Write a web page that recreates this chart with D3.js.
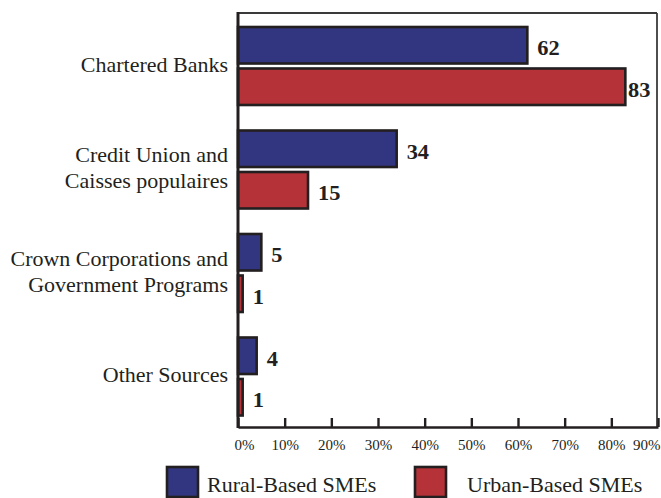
<!DOCTYPE html>
<html>
<head>
<meta charset="utf-8">
<script src="https://cdn.jsdelivr.net/npm/d3@7"></script>
<style>
  html, body { margin: 0; padding: 0; background: #fff; }
  svg { display: block; }
  text { font-family: "Liberation Serif", "Times New Roman", serif; fill: #231f20; }
</style>
</head>
<body>
<svg id="chart" width="661" height="498"></svg>
<script>
// Sources of financing used by SMEs (% of firms)
const categories = [
  ["Chartered Banks"],
  ["Credit Union and", "Caisses populaires"],
  ["Crown Corporations and", "Government Programs"],
  ["Other Sources"]
];
const seriesNames = ["Rural-Based SMEs", "Urban-Based SMEs"];
const ruralValues = [62, 34, 5, 4];
const urbanValues = [83, 15, 1, 1];
const tickValues = [0, 10, 20, 30, 40, 50, 60, 70, 80, 90];
const tickLabels = ["0%", "10%", "20%", "30%", "40%", "50%", "60%", "70%", "80%", "90%"];
const colors = ["#32357f", "#b43238"];

const svg = d3.select("#chart");
const plotLeft = 238, plotRight = 658, plotTop = 13, plotBottom = 427;
const ink = "#231f20";

const catKeys = categories.map(c => c.join(" "));
const x = d3.scaleLinear().domain([0, 90]).range([plotLeft, plotRight]);
const y0 = d3.scaleBand().domain(catKeys).range([plotTop, plotBottom]);
const y1 = d3.scaleBand().domain(seriesNames).range([14, 92]).paddingInner(0.12);

const rows = catKeys.map((k, i) => ({ key: k, lines: categories[i], values: [ruralValues[i], urbanValues[i]] }));

// frame: thin top and right edges
svg.append("line").attr("x1", plotLeft).attr("x2", plotRight - 1).attr("y1", plotTop).attr("y2", plotTop)
  .attr("stroke", "#3a3a3a").attr("stroke-width", 1.8);
svg.append("line").attr("x1", plotRight - 1).attr("x2", plotRight - 1).attr("y1", plotTop).attr("y2", plotBottom)
  .attr("stroke", "#3a3a3a").attr("stroke-width", 1.8);

// bars
const groups = svg.append("g").selectAll("g").data(rows).join("g")
  .attr("transform", d => `translate(0,${y0(d.key)})`);

groups.selectAll("rect").data(d => d.values.map((v, j) => ({ v, s: seriesNames[j], j })))
  .join("rect")
  .attr("x", x(0))
  .attr("y", d => y1(d.s))
  .attr("width", d => x(d.v) - x(0))
  .attr("height", y1.bandwidth())
  .attr("fill", d => colors[d.j])
  .attr("stroke", ink)
  .attr("stroke-width", 2.6);

// value labels (slightly widened bold digits)
groups.selectAll("text.val").data(d => d.values.map((v, j) => ({ v, s: seriesNames[j] })))
  .join("text")
  .attr("class", "val")
  .attr("transform", d => `translate(${Math.min(x(d.v) + 10, plotRight - 30)},${y1(d.s) + y1.bandwidth() / 2 + 10}) scale(1.12,1)`)
  .attr("font-size", 20)
  .attr("font-weight", "bold")
  .text(d => d.v);

// category labels
const catLabels = svg.append("g").selectAll("text").data(rows).join("text")
  .attr("text-anchor", "end")
  .attr("font-size", 22)
  .attr("y", d => y0(d.key) + y0.bandwidth() / 2 + 7 - (d.lines.length - 1) * 13);
catLabels.selectAll("tspan").data(d => d.lines).join("tspan")
  .attr("x", 228)
  .attr("dy", (d, i) => i === 0 ? 0 : 26)
  .text(d => d);

// x axis with inward ticks
const xAxis = d3.axisBottom(x)
  .tickValues(tickValues)
  .tickFormat((d, i) => tickLabels[i])
  .tickSizeInner(-9)
  .tickSizeOuter(0)
  .tickPadding(12);
const ax = svg.append("g").attr("transform", `translate(0,${plotBottom})`).call(xAxis);
ax.select(".domain").attr("stroke", ink).attr("stroke-width", 2.6);
ax.selectAll(".tick line").attr("stroke", ink).attr("stroke-width", 2.4);
ax.selectAll(".tick text")
  .attr("font-family", "Liberation Serif, Times New Roman, serif")
  .attr("font-size", 15)
  .attr("fill", ink);
ax.selectAll(".tick").filter(d => d === 0).select("text").attr("text-anchor", "start").attr("x", -4);
ax.selectAll(".tick").filter(d => d === 90).select("text").attr("text-anchor", "end").attr("x", 2);

// left axis (drawn last so it sits on top of bar edges)
svg.append("line").attr("x1", plotLeft).attr("x2", plotLeft).attr("y1", plotTop - 1).attr("y2", plotBottom + 1)
  .attr("stroke", ink).attr("stroke-width", 3);

// legend
const legendItems = [
  { name: seriesNames[0], color: colors[0], bx: 167, tx: 207 },
  { name: seriesNames[1], color: colors[1], bx: 415, tx: 467 }
];
const lg = svg.append("g").selectAll("g").data(legendItems).join("g");
lg.append("rect")
  .attr("x", d => d.bx).attr("y", 467).attr("width", 31).attr("height", 30)
  .attr("fill", d => d.color).attr("stroke", ink).attr("stroke-width", 2.6);
lg.append("text")
  .attr("x", d => d.tx).attr("y", 492)
  .attr("font-size", 22)
  .text(d => d.name);
</script>
</body>
</html>
